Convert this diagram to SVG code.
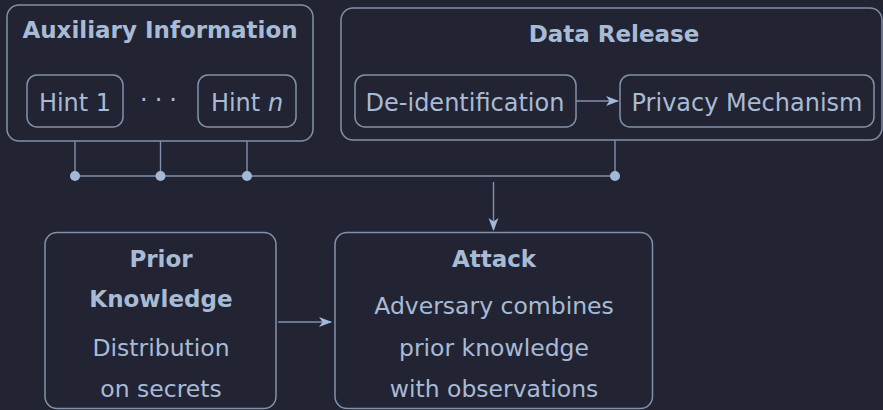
<svg xmlns="http://www.w3.org/2000/svg" width="883" height="410" viewBox="0 0 883 410">
<style>
.box{fill:none;stroke:#8291ab;stroke-width:1.5}
.t{font-family:"DejaVu Sans",sans-serif;fill:#a8bbd6;text-anchor:middle}
.b{font-weight:bold;font-size:23px}
.r{font-size:24px}
.s{font-size:23.5px}
.ln{stroke:#8291ab;stroke-width:1.4;fill:none}
.dot{fill:#a3b8d6}
</style>
<defs>
<marker id="ah" viewBox="0 0 13 11" refX="12" refY="5.5" markerWidth="13" markerHeight="11" markerUnits="userSpaceOnUse" orient="auto">
<path d="M0,0.5 L13,5.5 L0,10.5 L3.5,5.5 Z" fill="#a3b8d6"/>
</marker>
</defs>
<rect width="883" height="410" fill="#222433"/>
<g id="aux">
<rect class="box" x="7" y="5" width="306" height="136" rx="12"/>
<text class="t b" x="160" y="38">Auxiliary Information</text>
</g>
<g id="hint1">
<rect class="box" x="27" y="75" width="96" height="52" rx="10"/>
<text class="t r" x="75" y="111">Hint 1</text>
</g>
<g id="dots">
<text class="t r" x="162" y="108" letter-spacing="7">···</text>
</g>
<g id="hintn">
<rect class="box" x="198" y="75" width="98" height="52" rx="10"/>
<text class="t r" x="247" y="111">Hint <tspan font-style="italic">n</tspan></text>
</g>
<g id="release">
<rect class="box" x="341" y="8" width="541" height="132" rx="12"/>
<text class="t b" x="614" y="42">Data Release</text>
</g>
<g id="deid">
<rect class="box" x="355" y="75" width="221" height="52" rx="10"/>
<text class="t r" x="465" y="111">De-identification</text>
</g>
<g id="privacy">
<rect class="box" x="620" y="75" width="254" height="52" rx="10"/>
<text class="t r" x="747" y="111">Privacy Mechanism</text>
</g>
<g id="prior">
<rect class="box" x="45" y="232.5" width="231" height="176" rx="12"/>
<text class="t b" x="161" y="267">Prior</text>
<text class="t b" x="161" y="307">Knowledge</text>
<text class="t s" x="161" y="356">Distribution</text>
<text class="t s" x="161" y="397">on secrets</text>
</g>
<g id="attack">
<rect class="box" x="335" y="232.5" width="317.5" height="176" rx="12"/>
<text class="t b" x="494" y="267">Attack</text>
<text class="t s" x="494" y="314">Adversary combines</text>
<text class="t s" x="494" y="356">prior knowledge</text>
<text class="t s" x="494" y="397">with observations</text>
</g>
<g id="connectors">
<line class="ln" x1="576" y1="101" x2="618" y2="101" marker-end="url(#ah)"/>
<line class="ln" x1="75" y1="141" x2="75" y2="176"/>
<line class="ln" x1="160.5" y1="141" x2="160.5" y2="176"/>
<line class="ln" x1="247" y1="141" x2="247" y2="176"/>
<line class="ln" x1="615" y1="140" x2="615" y2="176"/>
<line class="ln" x1="75" y1="176" x2="615" y2="176" stroke-width="2"/>
<circle class="dot" cx="75" cy="176" r="5"/>
<circle class="dot" cx="160.5" cy="176" r="5"/>
<circle class="dot" cx="247" cy="176" r="5"/>
<circle class="dot" cx="615" cy="176" r="5"/>
<line class="ln" x1="493.5" y1="182" x2="493.5" y2="230" marker-end="url(#ah)"/>
<line class="ln" x1="278" y1="322" x2="331" y2="322" marker-end="url(#ah)"/>
</g>
</svg>
